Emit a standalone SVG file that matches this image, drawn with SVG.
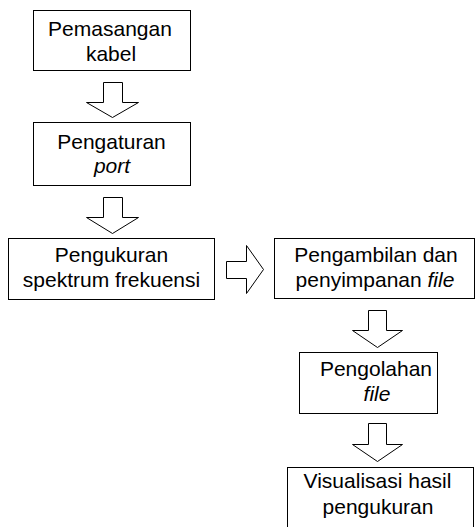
<svg xmlns="http://www.w3.org/2000/svg" width="476" height="527" viewBox="0 0 476 527">
<style>
.box{fill:#fff;stroke:#000;stroke-width:1}
.arr{fill:#fff;stroke:#000;stroke-width:1;stroke-linejoin:miter}
text{font-family:"Liberation Sans",Arial,sans-serif;font-size:21px;fill:#000;text-anchor:middle}
.i{font-style:italic}
</style>
<rect width="476" height="527" fill="#fff"/>
<g id="connectors">
<polygon class="arr" points="103.5,82.5 122.5,82.5 122.5,102.5 138.5,102.5 112.5,117.5 86.5,102.5 103.5,102.5"/>
<polygon class="arr" points="103.5,197.5 122.5,197.5 122.5,217.5 138.5,217.5 112.5,233.5 86.5,217.5 103.5,217.5"/>
<polygon class="arr" points="226.5,261.5 246.5,261.5 246.5,245.5 263.5,269.5 246.5,293.5 246.5,278.5 226.5,278.5"/>
<polygon class="arr" points="368.5,310.5 386.5,310.5 386.5,330.5 402.5,330.5 377.5,347.5 352.5,330.5 368.5,330.5"/>
<polygon class="arr" points="368.5,423.5 386.5,423.5 386.5,444.5 402.5,444.5 377.5,461.5 352.5,444.5 368.5,444.5"/>
</g>
<g id="n1">
<rect class="box" x="33.5" y="10.5" width="157" height="60"/>
<text x="110" y="36">Pemasangan</text>
<text x="111" y="61">kabel</text>
</g>
<g id="n2">
<rect class="box" x="33.5" y="122.5" width="157" height="63"/>
<text x="111.5" y="149">Pengaturan</text>
<text x="112" y="173" class="i">port</text>
</g>
<g id="n3">
<rect class="box" x="8.5" y="238.5" width="206" height="61"/>
<text x="111.5" y="262">Pengukuran</text>
<text x="111.5" y="287">spektrum frekuensi</text>
</g>
<g id="n4">
<rect class="box" x="274.5" y="238.5" width="200" height="60"/>
<text x="376" y="262">Pengambilan dan</text>
<text x="375" y="287">penyimpanan <tspan class="i">file</tspan></text>
</g>
<g id="n5">
<rect class="box" x="299.5" y="352.5" width="138" height="61"/>
<text x="376" y="376">Pengolahan</text>
<text x="377" y="401" class="i">file</text>
</g>
<g id="n6">
<rect class="box" x="287.5" y="467.5" width="186" height="70"/>
<text x="377.5" y="488">Visualisasi hasil</text>
<text x="378" y="514">pengukuran</text>
</g>
</svg>
